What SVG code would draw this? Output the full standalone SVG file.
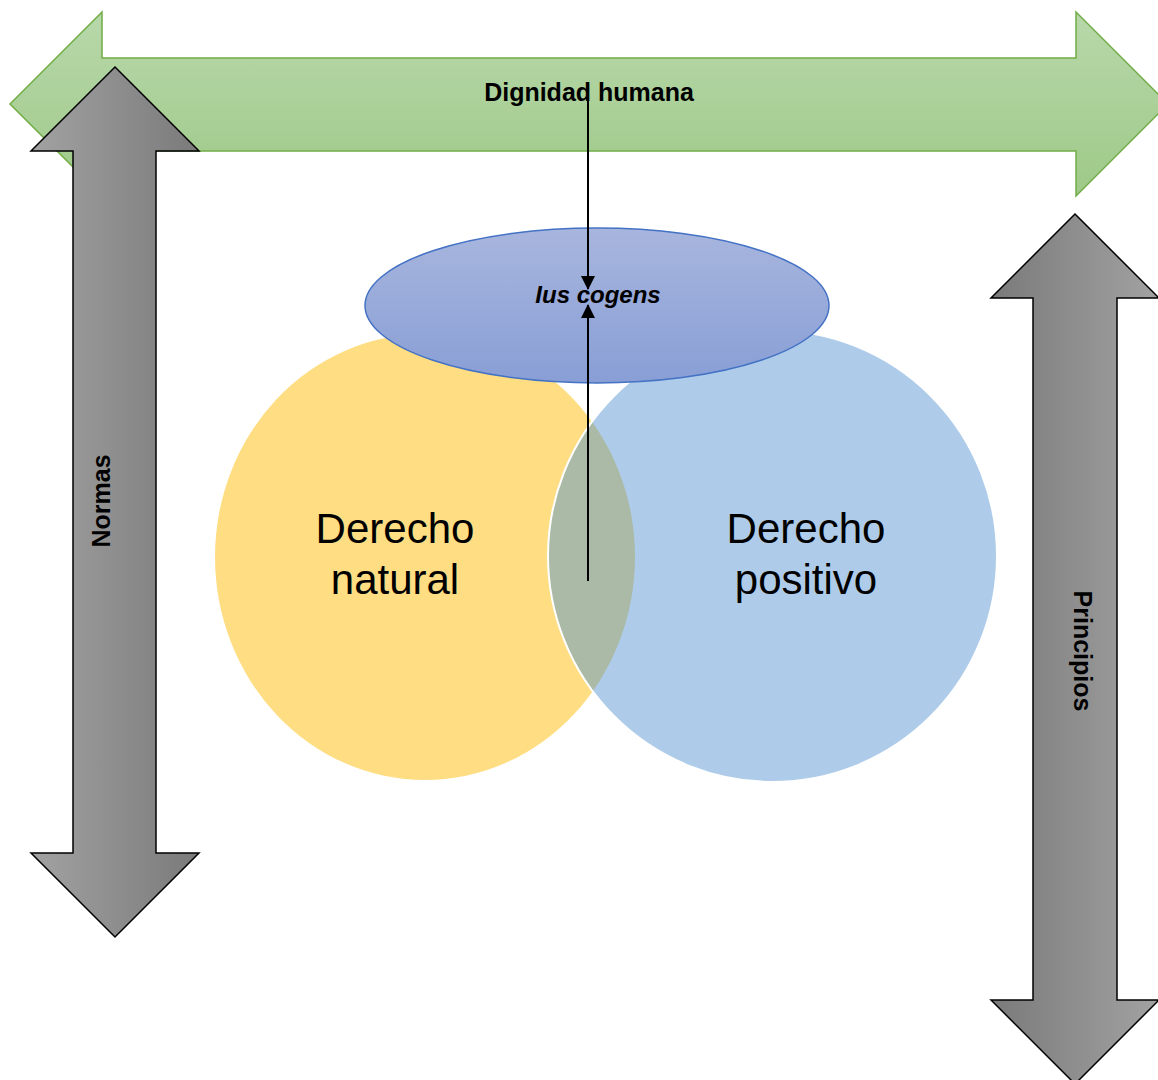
<svg xmlns="http://www.w3.org/2000/svg" width="1158" height="1080" viewBox="0 0 1158 1080">
  <defs>
    <linearGradient id="gGreen" x1="0" y1="0" x2="0" y2="1">
      <stop offset="0" stop-color="#b8d8aa"/>
      <stop offset="1" stop-color="#9ec988"/>
    </linearGradient>
    <linearGradient id="gGrayL" x1="0" y1="0" x2="1" y2="0">
      <stop offset="0" stop-color="#a2a2a2"/>
      <stop offset="1" stop-color="#7a7a7a"/>
    </linearGradient>
    <linearGradient id="gGrayR" x1="0" y1="0" x2="1" y2="0">
      <stop offset="0" stop-color="#7a7a7a"/>
      <stop offset="1" stop-color="#a2a2a2"/>
    </linearGradient>
    <linearGradient id="gBlue" x1="0" y1="0" x2="0" y2="1">
      <stop offset="0" stop-color="#a8b6de"/>
      <stop offset="1" stop-color="#889ed5"/>
    </linearGradient>
    <clipPath id="clipYellow">
      <ellipse cx="425" cy="557" rx="210" ry="223"/>
    </clipPath>
    <marker id="arr" markerWidth="16" markerHeight="16" refX="13" refY="7" orient="auto" markerUnits="userSpaceOnUse">
      <path d="M0,0 L14,7 L0,14 Z" fill="#000"/>
    </marker>
    <style>
      .grayArrow { stroke: #000; stroke-width: 1.5; stroke-linejoin: miter; }
      .lbl { font-family: "Liberation Sans", Arial, sans-serif; fill: #000; }
      .bold { font-weight: bold; }
      .big { font-size: 42px; text-anchor: middle; }
      .conn { stroke: #000; stroke-width: 2; fill: none; }
    </style>
  </defs>
  <rect width="1158" height="1080" fill="#fff"/>

  <g id="dignidad">
    <polygon points="10,104 102,12 102,58 1076,58 1076,12 1168,104 1076,196 1076,151 102,151 102,196" fill="url(#gGreen)" stroke="#70ad47" stroke-width="1.5"/>
    <text class="lbl bold" x="589" y="101" font-size="25" text-anchor="middle">Dignidad humana</text>
  </g>

  <g id="normas">
    <polygon class="grayArrow" points="115,67 199,151 156,151 156,853 199,853 115,937 31,853 73,853 73,151 31,151" fill="url(#gGrayL)"/>
    <text class="lbl bold" transform="translate(110,501) rotate(-90)" font-size="25" text-anchor="middle">Normas</text>
  </g>

  <g id="principios">
    <polygon class="grayArrow" points="1075,214 1159,298 1117,298 1117,1000 1159,1000 1075,1084 991,1000 1033,1000 1033,298 991,298" fill="url(#gGrayR)"/>
    <text class="lbl bold" transform="translate(1074,651) rotate(90)" font-size="25" text-anchor="middle">Principios</text>
  </g>

  <g id="derecho-natural">
    <ellipse cx="425" cy="557" rx="210" ry="223" fill="#fedd83"/>
  </g>

  <g id="derecho-positivo">
    <ellipse cx="772.5" cy="556" rx="224.5" ry="226" fill="#aecce9"/>
    <ellipse cx="772.5" cy="556" rx="224.5" ry="226" fill="#abbaa6" clip-path="url(#clipYellow)"/>
    <ellipse cx="772.5" cy="556" rx="224.5" ry="226" fill="none" stroke="#fff" stroke-width="2"/>
  </g>

  <g id="labels-venn">
    <text class="lbl big" x="395" y="543">Derecho</text>
    <text class="lbl big" x="395" y="594">natural</text>
    <text class="lbl big" x="806" y="543">Derecho</text>
    <text class="lbl big" x="806" y="594">positivo</text>
  </g>

  <g id="ius-cogens">
    <ellipse cx="597" cy="305.5" rx="232" ry="77.5" fill="url(#gBlue)" stroke="#4472c4" stroke-width="1.5"/>
    <text class="lbl bold" x="598" y="303" font-size="24" font-style="italic" text-anchor="middle">Ius cogens</text>
  </g>

  <g id="connectors">
    <line class="conn" x1="588" y1="82" x2="588" y2="289" marker-end="url(#arr)"/>
    <line class="conn" x1="588" y1="581" x2="588" y2="305" marker-end="url(#arr)"/>
  </g>
</svg>
